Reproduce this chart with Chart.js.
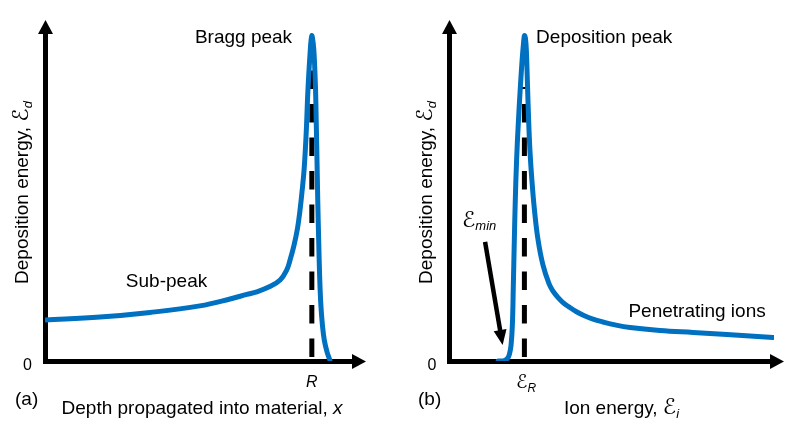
<!DOCTYPE html>
<html>
<head>
<meta charset="utf-8">
<script src="https://cdn.jsdelivr.net/npm/chart.js@4/dist/chart.umd.min.js"></script>
<style>
  html, body { margin: 0; padding: 0; background: #fff; }
  #wrap { position: relative; width: 786px; height: 427px; }
  canvas { position: absolute; top: 0; }
  #chartA { left: 0; }
  #chartB { left: 393px; }
</style>
</head>
<body>
<div id="wrap">
  <canvas id="chartA" width="393" height="427"></canvas>
  <canvas id="chartB" width="393" height="427"></canvas>
</div>
<script>
// (a) Deposition energy against depth (arbitrary units, 0–100)
const depthX = [0, 17.7, 33.8, 49.8, 59.5, 64.9, 68.1, 72.3, 75.6, 77.7, 78.8, 80.1, 81.2, 82.0, 82.7, 83.3, 83.7, 84.1, 84.4, 84.8,
                85.2, 85.5, 85.8, 86.0, 86.4, 86.7, 87.0, 87.2, 87.4, 87.7, 88.0, 88.3, 88.7, 89.2, 89.8, 90.7, 91.6];
const depthE = [12.5, 13.4, 14.8, 16.8, 18.9, 20.3, 21.1, 22.7, 24.7, 27.7, 30.8, 35.4, 40.5, 46.0, 52.1, 58.2, 64.3, 71.9, 79.6, 87.2,
                93.3, 97.3, 99.2, 98.5, 95.4, 90.2, 82.6, 73.5, 64.3, 49.1, 36.9, 26.2, 17.1, 11.0, 6.4, 2.7, 0.3];
const rangeR = 85.8;          // depth of the Bragg peak, R
const rangeDashTop = 89.6;

// (b) Deposition energy against ion energy (arbitrary units, 0–100)
const ionX = [15.1, 16.9, 18.0, 18.6, 19.1, 19.5, 19.8, 20.1, 20.4, 20.8, 21.3, 21.9, 22.5, 22.9, 23.2,
              23.5, 23.8, 24.1, 24.5, 24.9, 25.5, 26.3, 27.4, 28.9, 30.8, 32.0, 33.5, 35.1, 36.9, 39.1, 41.5, 44.3,
              47.4, 51.1, 55.7, 64.9, 75.1, 85.5, 99.7];
const ionE = [0, 0.1, 0.8, 2.1, 4.9, 11.0, 23.2, 36.9, 49.1, 61.3, 72.0, 82.6, 91.8, 96.6, 99.2,
              98.5, 94.8, 85.7, 73.5, 64.3, 55.2, 46.0, 36.9, 29.3, 23.5, 21.3, 19.4, 17.8, 16.5, 15.1, 13.9, 12.8,
              11.9, 11.0, 10.2, 9.3, 8.7, 8.1, 7.2];
const energyR = 23.2;         // ion energy at the deposition peak, ℰR
const energyDashTop = 83.5;
const eminArrowFrom = { x: 11.1, y: 36.3 };
const eminArrowTo = { x: 16.5, y: 4.9 };

const BLUE = '#0070C0';
const FAMILY = "'Liberation Sans', Arial, 'DejaVu Sans', sans-serif";
const fontOf = (size, italic) => (italic ? 'italic ' : '') + size + 'px ' + FAMILY;

// Draw a row of text runs (mixed sizes / italics / subscripts) starting at the origin
function drawRuns(ctx, runs, x, y, align, rotation) {
  ctx.save();
  ctx.translate(x, y);
  if (rotation) ctx.rotate(rotation);
  ctx.textBaseline = 'alphabetic';
  ctx.textAlign = 'left';
  ctx.fillStyle = '#000';
  let width = 0;
  runs.forEach(r => { ctx.font = fontOf(r.size || 19, r.italic); width += ctx.measureText(r.t).width; });
  let cx = align === 'center' ? -width / 2 : 0;
  runs.forEach(r => {
    ctx.font = fontOf(r.size || 19, r.italic);
    ctx.fillText(r.t, cx, r.dy || 0);
    cx += ctx.measureText(r.t).width;
  });
  ctx.restore();
}

function arrowHead(ctx, tipX, tipY, angle, len, half) {
  ctx.save();
  ctx.translate(tipX, tipY);
  ctx.rotate(angle);
  ctx.beginPath();
  ctx.moveTo(0, 0);
  ctx.lineTo(-len, -half);
  ctx.lineTo(-len, half);
  ctx.closePath();
  ctx.fill();
  ctx.restore();
}

// Arrowheads on both axes, the in-plot labels and the axis titles
const decorations = {
  id: 'decorations',
  afterDraw(chart, args, opts) {
    const { ctx, chartArea: { top, right } } = chart;
    const xs = chart.scales.x, ys = chart.scales.y;
    const x0 = Math.round(xs.getPixelForValue(0)) + 0.5;
    const y0 = Math.round(ys.getPixelForValue(0)) + 0.5;
    ctx.save();
    ctx.fillStyle = '#000';
    arrowHead(ctx, x0, top - 13, -Math.PI / 2, 14, 7.5);
    arrowHead(ctx, right + 10, y0, 0, 14, 7.5);

    (opts.labels || []).forEach(l => {
      drawRuns(ctx, l.runs, xs.getPixelForValue(l.x), ys.getPixelForValue(l.y), l.align || 'left');
    });
    (opts.pointers || []).forEach(p => {
      const fx = xs.getPixelForValue(p.from.x), fy = ys.getPixelForValue(p.from.y);
      const tx = xs.getPixelForValue(p.to.x), ty = ys.getPixelForValue(p.to.y);
      const ang = Math.atan2(ty - fy, tx - fx);
      ctx.strokeStyle = '#000';
      ctx.lineWidth = 4.5;
      ctx.beginPath();
      ctx.moveTo(fx, fy);
      ctx.lineTo(tx - 12 * Math.cos(ang), ty - 12 * Math.sin(ang));
      ctx.stroke();
      arrowHead(ctx, tx, ty, ang, 15, 6.5);
    });
    if (opts.xMark) {
      const m = opts.xMark;
      drawRuns(ctx, m.runs, xs.getPixelForValue(m.value) + (m.dx || 0), m.baseline, 'center');
    }
    const t = opts.titles;
    drawRuns(ctx, t.y.runs, t.y.x, t.y.y, 'center', -Math.PI / 2);
    drawRuns(ctx, t.x.runs, t.x.x, t.x.y, 'center');
    drawRuns(ctx, [{ t: t.panel.text }], t.panel.x, t.panel.y, 'left');
    ctx.restore();
  }
};

function buildChart(canvas, cfg) {
  return new Chart(canvas, {
    type: 'line',
    data: {
      datasets: [
        {
          data: cfg.xs.map((x, i) => ({ x, y: cfg.ys[i] })),
          borderColor: BLUE,
          borderWidth: 5,
          pointRadius: 0,
          fill: false,
          tension: 0.4,
          borderCapStyle: 'round',
          borderJoinStyle: 'round',
          order: 0
        },
        {
          data: [{ x: cfg.mark, y: 0 }, { x: cfg.mark, y: cfg.dashTop }],
          borderColor: '#000',
          borderWidth: 5,
          borderDash: [18.5, 15],
          borderDashOffset: 29.5,
          pointRadius: 0,
          fill: false,
          order: 1
        }
      ]
    },
    options: {
      responsive: false,
      animation: false,
      devicePixelRatio: 1,
      layout: { padding: { top: 33, right: cfg.padRight, left: 0, bottom: 0 } },
      plugins: {
        legend: { display: false },
        tooltip: { enabled: false },
        decorations: cfg.decor
      },
      scales: {
        x: {
          type: 'linear', min: 0, max: 100,
          grid: { display: false, drawTicks: false },
          border: { display: true, color: '#000', width: 5 },
          afterBuildTicks: s => { s.ticks = cfg.xTicks.map(v => ({ value: v })); },
          ticks: {
            display: cfg.xTickLabel !== null,
            padding: 12,
            color: '#000',
            font: { family: FAMILY, size: 16, style: 'italic' },
            callback: () => cfg.xTickLabel
          },
          afterFit: s => { s.height = 66; }
        },
        y: {
          type: 'linear', min: 0, max: 100,
          grid: { display: false, drawTicks: false },
          border: { display: true, color: '#000', width: 5 },
          afterBuildTicks: s => { s.ticks = [{ value: 0 }]; },
          ticks: {
            padding: cfg.yTickPad,
            labelOffset: 5,
            color: '#000',
            font: { family: FAMILY, size: 16 },
            callback: () => '0'
          },
          afterFit: s => { s.width = cfg.axisLeft; }
        }
      }
    },
    plugins: [decorations]
  });
}

const yTitleRuns = [
  { t: 'Deposition energy, ' },
  { t: 'ℰ', size: 22, italic: true },
  { t: 'd', size: 13, italic: true, dy: 4 }
];

buildChart(document.getElementById('chartA'), {
  xs: depthX, ys: depthE, mark: rangeR, dashTop: rangeDashTop,
  xTicks: [rangeR], xTickLabel: 'R',
  axisLeft: 45, padRight: 37, yTickPad: 13,
  decor: {
    labels: [
      { runs: [{ t: 'Bragg peak' }], x: 48.2, y: 97.0 },
      { runs: [{ t: 'Sub-peak' }], x: 26.0, y: 22.6 }
    ],
    titles: {
      y: { runs: yTitleRuns, x: 28, y: 192.5 },
      x: { runs: [{ t: 'Depth propagated into material, ' }, { t: 'x', italic: true }], x: 202, y: 414 },
      panel: { text: '(a)', x: 15, y: 405 }
    }
  }
});

buildChart(document.getElementById('chartB'), {
  xs: ionX, ys: ionE, mark: energyR, dashTop: energyDashTop,
  xTicks: [energyR], xTickLabel: null,
  axisLeft: 56, padRight: 12, yTickPad: 12.5,
  decor: {
    labels: [
      { runs: [{ t: 'Deposition peak' }], x: 26.8, y: 97.0 },
      { runs: [{ t: 'Penetrating ions' }], x: 55.2, y: 13.3 },
      { runs: [{ t: 'ℰ', size: 22, italic: true }, { t: 'min', size: 13, italic: true, dy: 3.5 }], x: 4.0, y: 40.9 }
    ],
    pointers: [{ from: eminArrowFrom, to: eminArrowTo }],
    xMark: { value: energyR, dx: 1.7, baseline: 388.3,
             runs: [{ t: 'ℰ', size: 19, italic: true }, { t: 'R', size: 12, italic: true, dy: 3.5 }] },
    titles: {
      y: { runs: yTitleRuns, x: 39, y: 192.5 },
      x: { runs: [{ t: 'Ion energy, ' }, { t: 'ℰ', size: 22, italic: true }, { t: 'i', size: 13, italic: true, dy: 4 }], x: 228.5, y: 414 },
      panel: { text: '(b)', x: 25, y: 405 }
    }
  }
});
</script>
</body>
</html>
